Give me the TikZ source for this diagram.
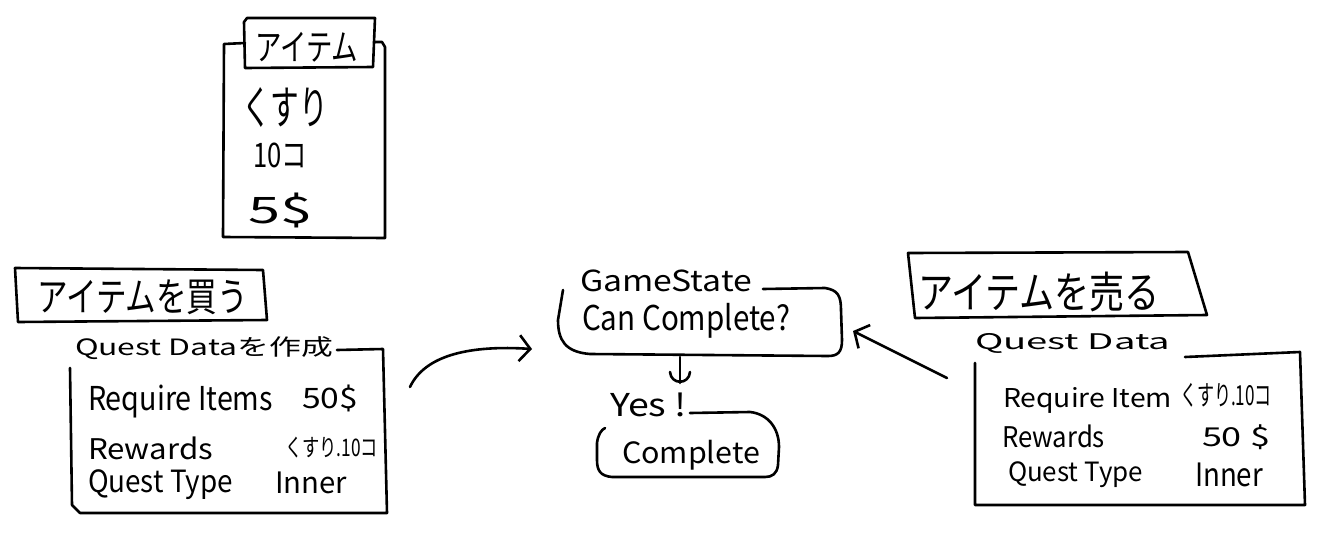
\documentclass[tikz,border=0pt]{standalone}
\usepackage{fontspec}
\usepackage{graphicx}
\setmainfont{Noto Sans CJK JP}
\usetikzlibrary{arrows.meta}
\newcommand{\ink}[3]{\resizebox*{#1pt}{#2pt}{#3}}
\tikzset{
  sk/.style={line width=2.6pt, line cap=round, line join=round},
  txt/.style={anchor=north west, inner sep=0pt, outer sep=0pt, font=\fontsize{30}{36}\selectfont},
  barb/.style={sk, -{Straight Barb[length=11pt,width=26pt,line width=2.6pt]}}
}
\begin{document}
\begin{tikzpicture}[x=1pt,y=-1pt]
\path[fill=white, use as bounding box] (0,0) rectangle (1318,544);

% ---- item card (top) ----
\draw[sk] (245,43) -- (224,44) -- (223,237) -- (385,238) -- (385,47) -- (382,42) -- (374,42);
\draw[sk] (245,68) -- (244,22) -- (247,18) -- (375,18) -- (373,67) -- cycle;
\node[txt] (itemtitle) at (255,32) {\ink{103}{30}{アイテム}};
\node[txt] (itemname) at (242,87) {\ink{86}{40}{くすり}};
\node[txt] (itemqty) at (253,143) {\ink{54}{25}{10コ}};
\node[txt] (itemprice) at (248,193) {\ink{64}{35}{5\$}};

% ---- buy ----
\draw[sk] (15,268) -- (263,270) -- (267,320) -- (18,322) -- cycle;
\node[txt] (buy) at (37,280) {\ink{211}{35}{アイテムを買う}};
\draw[sk] (337,350) -- (383,349) -- (387,513) -- (80,513) -- (72,505) -- (70,368);
\node[txt] (qd1) at (75,337) {\ink{258}{23}{Quest Dataを作成}};
\node[txt] (qd1a) at (88,385) {\ink{185}{33}{Require Items}};
\node[txt] (qd1av) at (302,385) {\ink{56}{27}{50\$}};
\node[txt] (qd1b) at (88,437) {\ink{125}{23}{Rewards}};
\node[txt] (qd1bv) at (285,437) {\ink{93}{21}{くすり.10コ}};
\node[txt] (qd1c) at (88,470) {\ink{145}{30}{Quest Type}};
\node[txt] (qd1cv) at (275,472) {\ink{72}{22}{Inner}};

% ---- game state ----
\draw[sk] (763,289) -- (825,288) .. controls (838,290) and (841,296) .. (841,310)
  -- (842,340) .. controls (842,352) and (838,356) .. (828,356)
  -- (590,354) .. controls (565,352) and (558,340) .. (558,320) -- (563,290);
\node[txt] (gs1) at (580,270) {\ink{172}{22}{GameState}};
\node[txt] (gs2) at (582,303) {\ink{208}{35}{Can Complete?}};

\draw[sk] (690,413) -- (750,412) .. controls (768,414) and (779,428) .. (779,447)
  -- (778,465) .. controls (777,474) and (772,477) .. (765,477)
  -- (612,477) .. controls (600,476) and (597,470) .. (597,460) -- (597,443)
  .. controls (598,435) and (601,430) .. (605,428);
\node[txt] (yes) at (610,393) {\ink{77}{24}{Yes !}};
\node[txt] (done) at (622,440) {\ink{138}{30}{Complete}};

% ---- sell ----
\draw[sk] (908,253) -- (1188,252) -- (1207,315) -- (915,318) -- cycle;
\node[txt] (sell) at (918,272) {\ink{242}{40}{アイテムを売る}};
\draw[sk] (1185,357) -- (1300,352) -- (1305,505) -- (975,505) -- (975,363);
\node[txt] (qd2) at (975,333) {\ink{195}{20}{Quest Data}};
\node[txt] (qd2a) at (1003,387) {\ink{169}{26}{Require Item}};
\node[txt] (qd2av) at (1180,383) {\ink{92}{24}{くすり.10コ}};
\node[txt] (qd2b) at (1002,425) {\ink{103}{23}{Rewards}};
\node[txt] (qd2bv) at (1202,425) {\ink{68}{25}{50 \$}};
\node[txt] (qd2c) at (1008,462) {\ink{135}{26}{Quest Type}};
\node[txt] (qd2cv) at (1195,463) {\ink{68}{24}{Inner}};

% ---- connectors ----
\coordinate (buyout) at (410,387);
\coordinate (gsinl) at (532,349);
\coordinate (sellout) at (947,378);
\coordinate (gsinr) at (853,331);
\coordinate (gsdown) at (680,357);
\coordinate (yesin) at (680,383);
\draw[barb] (buyout) .. controls (425,355) and (470,345) .. (gsinl);
\draw[barb] (sellout) -- (gsinr);
\draw[sk] (gsdown) -- (yesin);
\draw[sk] (670,372) .. controls (671,385) and (689,385) .. (690,372);
\end{tikzpicture}
\end{document}
